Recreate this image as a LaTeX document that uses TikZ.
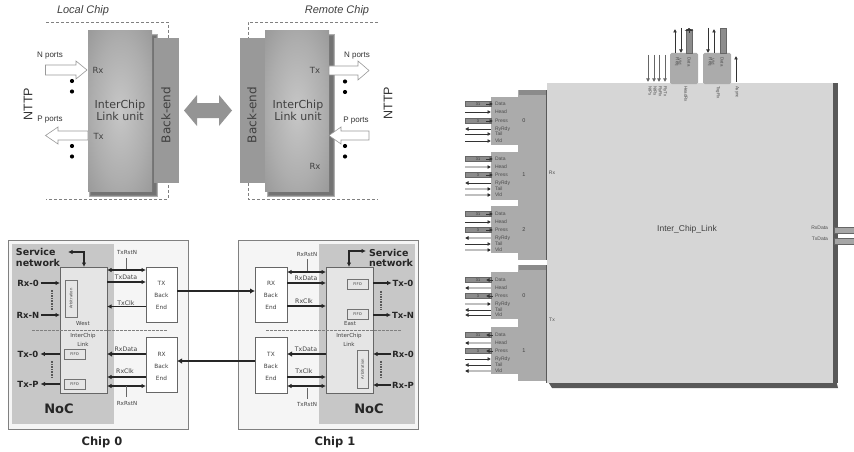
\documentclass[tikz,border=0pt]{standalone}
\usepackage{fontspec}
\setmainfont{Liberation Sans}
\newfontfamily\dvf{DejaVu Sans}
\usetikzlibrary{arrows.meta}
\definecolor{bendgray}{gray}{0.60}
\definecolor{nocgray}{gray}{0.78}
\definecolor{chipbg}{gray}{0.96}
\definecolor{linkbg}{gray}{0.90}
\definecolor{blockbg}{gray}{0.84}
\definecolor{tabgray}{gray}{0.67}
\definecolor{stripdark}{gray}{0.35}
\definecolor{ucenter}{gray}{0.78}
\definecolor{umid}{gray}{0.68}
\definecolor{uedge}{gray}{0.52}
\tikzset{
  x=1pt,y=-1pt,
  every node/.style={inner sep=0pt,outer sep=0pt},
  lbl/.style={text=black!80,font=\fontsize{#1}{#1}\selectfont},
  lbl/.default=8,
  ilbl/.style={text=black!75,font=\fontsize{11}{11}\selectfont\itshape},
  dvl/.style={text=black!75,font=\fontsize{#1}{#1}\selectfont\dvf},
  dvb/.style={text=black!85,font=\fontsize{#1}{#1}\selectfont\dvf\bfseries},
  chipframe/.style={draw=black!50,line width=1pt,fill=chipbg},
  nocfill/.style={fill=nocgray},
  linkbox/.style={draw=black!60,line width=1pt,fill=linkbg},
  bebox/.style={draw=black!60,line width=1pt,fill=white},
  inbox/.style={draw=black!55,line width=.7pt,fill=linkbg},
  sig/.style={draw=black!85,line width=1.1pt,-{Latex[length=4.5pt,width=4.5pt]}},
  sigb/.style={draw=black!85,line width=1.1pt,{Latex[length=4.5pt,width=4.5pt]}-{Latex[length=4.5pt,width=4.5pt]}},
  thicksig/.style={draw=black!85,line width=1.6pt,-{Latex[length=5pt,width=5.5pt]}},
  stemline/.style={draw=black!60,line width=.6pt},
  vdash/.style={draw=black!65,line width=1.4pt,dash pattern=on 1.6pt off 1pt},
  hdash/.style={draw=black!50,line width=.8pt,dash pattern=on 2.5pt off 1.5pt},
  chipdash/.style={draw=black!50,line width=.6pt,dash pattern=on 3pt off 2pt},
  openarrow/.style={draw=black!40,line width=.6pt,fill=white},
  wire/.style={draw=black!80,line width=.7pt,-{Latex[length=3.5pt,width=4pt]}},
  lwire/.style={draw=black!25,line width=1.3pt,-{Latex[length=3.5pt,width=4pt,color=black!85]}},
  busbar/.style={draw=black!60,line width=.7pt,fill=black!45},
  tabfill/.style={fill=tabgray},
  tinylbl/.style={text=black!70,font=\fontsize{5}{5}\selectfont},
  vtiny/.style={text=black!70,font=\fontsize{4.4}{4.4}\selectfont,rotate=-90},
}
\pgfdeclareradialshading{unitshade}{\pgfpoint{0pt}{0pt}}{color(0pt)=(ucenter); color(22pt)=(umid); color(50pt)=(uedge)}
\newcommand{\rowlabels}[6]{%
  \node[tinylbl,anchor=west] at (495,#1) {Data};
  \node[tinylbl,anchor=west] at (495,#2) {Head};
  \node[tinylbl,anchor=west] at (495,#3) {Press};
  \node[tinylbl,anchor=west] at (495,#4) {RyRdy};
  \node[tinylbl,anchor=west] at (495,#5) {Tail};
  \node[tinylbl,anchor=west] at (495,#6) {Vld};
}
\newcommand{\busrow}[3]{%
  \draw[busbar] (465,#1-2.5) rectangle (491,#1+2.5);
  \node[font=\fontsize{3.8}{3.8}\selectfont,text=black!80] at (478,#1) {#2};
  \draw[draw=black!80,line width=.7pt,#3] (486,#1) -- (493,#1);
}
\newcommand{\softshadow}[4]{%
  \foreach \s/\g in {3/90,2/78,1/66,0/55}
    \fill[black!\g!white,opacity=.35] (#1-\s,#2-\s) rectangle (#3+\s,#4+\s);
}
\begin{document}
\begin{tikzpicture}
\useasboundingbox (0,0) rectangle (854,452);
\fill[white] (0,0) rectangle (854,452);

%% ---------- top left: local chip
\node[ilbl] (localT) at (83,11) {Local Chip};
\draw[chipdash] (46,22) -- (168,22) -- (168,38);
\draw[chipdash] (168,185) -- (168,199) -- (46,199);
\softshadow{92}{37}{155}{194}
\node[fill=bendgray,minimum width=25pt,minimum height=145pt] (beL) at (166,110.5) {};
\shade[shading=unitshade] (88,31) rectangle (152,191);
\node[minimum width=64pt,minimum height=160pt] (unitL) at (120,111) {};
\node[dvl=11,align=center] at (120,110) {InterChip\\[1pt]Link unit};
\node[dvl=12,rotate=90] at (166,115) {Back-end};
\node[lbl=12.5,rotate=90] (nttpL) at (28,104) {NTTP};
\node[lbl=8] at (50,56) {N ports};
\node[lbl=8] at (50,120) {P ports};
\node[dvl=8.5,anchor=west] at (92.5,70.5) {Rx};
\node[dvl=8.5,anchor=west] at (93.5,136) {Tx};
\draw[openarrow] (45.5,65) -- (76,65) -- (76,61) -- (87,70) -- (76,79) -- (76,75) -- (45.5,75) -- cycle;
\draw[openarrow] (88,131) -- (58,131) -- (58,127) -- (45.5,135.5) -- (58,144) -- (58,140) -- (88,140) -- cycle;
\foreach \y in {81,91.5,146,156.5} \fill[black] (72,\y) circle (2.1);

%% ---------- double arrow
\fill[black!42] (184,110.5) -- (197,95) -- (197,103) -- (219,103) -- (219,95) -- (232,110.5) -- (219,126) -- (219,118) -- (197,118) -- (197,126) -- cycle;

%% ---------- top right: remote chip
\node[ilbl] (remoteT) at (337,11) {Remote Chip};
\draw[chipdash] (378,22) -- (248,22) -- (248,38);
\draw[chipdash] (248,183) -- (248,199) -- (378,199);
\softshadow{270}{37}{332}{194}
\node[fill=bendgray,minimum width=25pt,minimum height=145pt] (beR) at (252,110.5) {};
\shade[shading=unitshade] (265,31) rectangle (329,191);
\node[minimum width=64pt,minimum height=160pt] (unitR) at (297,111) {};
\node[dvl=11,align=center] at (298,110) {InterChip\\[1pt]Link unit};
\node[dvl=12,rotate=90] at (252,115) {Back-end};
\node[lbl=12.5,rotate=90] (nttpR) at (388,103) {NTTP};
\node[lbl=8] at (357,56) {N ports};
\node[lbl=8] at (356,121) {P ports};
\node[dvl=8.5] at (315,70) {Tx};
\node[dvl=8.5] at (315,166) {Rx};
\draw[openarrow] (329,66) -- (358,66) -- (358,61) -- (369,70.5) -- (358,80) -- (358,75) -- (329,75) -- cycle;
\draw[openarrow] (369,131) -- (341,131) -- (341,127) -- (329,135.5) -- (341,144) -- (341,140) -- (369,140) -- cycle;
\foreach \y in {81.5,92,146,156.5} \fill[black] (345,\y) circle (2.1);

%% ---------- bottom left: chip 0
\node[chipframe,minimum width=180pt,minimum height=189pt] (chip0) at (98,334.5) {};
\node[nocfill,minimum width=102pt,minimum height=180pt] (noc0) at (63,334) {};
\node[linkbox,minimum width=47pt,minimum height=126pt] (link0) at (83.5,330) {};
\node[bebox,minimum width=31pt,minimum height=55pt] (tx0) at (161.5,294.5) {};
\node[bebox,minimum width=31pt,minimum height=55pt] (rx0) at (161.5,365) {};
\foreach \y/\t in {283/TX,295/Back,307/End} \node[dvl=5.8] at (161.5,\y) {\t};
\foreach \y/\t in {354/RX,366/Back,378/End} \node[dvl=5.8] at (161.5,\y) {\t};
\draw[hdash] (32,330) -- (168,330);
\node[inbox,minimum width=12pt,minimum height=37pt] (arb0) at (71,298.5) {};
\node[dvl=3.8,rotate=90] at (71,298.5) {Arbitration};
\node[inbox,minimum width=21pt,minimum height=10pt,dvl=3.8] (fifo0a) at (74.5,354) {FIFO};
\node[inbox,minimum width=21pt,minimum height=10.5pt,dvl=3.8] (fifo0b) at (74.5,384.5) {FIFO};
\node[dvl=5.5] at (83,324) {West};
\node[dvl=5.5] at (83,336) {InterChip};
\node[dvl=5.5] at (83,344) {Link};
\node[dvb=9.5,anchor=west] at (16,252) {Service};
\node[dvb=9.5,anchor=west] (svcT0) at (16,262.5) {network};
\node[dvb=8.5] (rx00) at (28,283) {Rx-0};
\node[dvb=8.5] (rxn0) at (28,315) {Rx-N};
\node[dvb=8.5] (tx00) at (28,354) {Tx-0};
\node[dvb=8.5] (txp0) at (28,384) {Tx-P};
\node[dvb=13] at (59,409) {NoC};
\node[dvb=11.5] (c0) at (102,442) {Chip 0};
\coordinate (svc0) at (68,252);
\draw[sigb] (svc0) -| (link0.north -| 84,0);
\draw[sig] ([xshift=2pt]rx00.east) -- (link0.west |- rx00.east);
\draw[sig] ([xshift=2pt]rxn0.east) -- (link0.west |- rxn0.east);
\draw[sig] (link0.west |- tx00.east) -- ([xshift=2pt]tx00.east);
\draw[sig] (link0.west |- txp0.east) -- ([xshift=2pt]txp0.east);
\draw[vdash] (52,290) -- (52,310);
\draw[vdash] (52,361) -- (52,378);
\node[dvl=5.6] (txrst0) at (127,252) {TxRstN};
\draw[stemline] (126,258) -- (126,270);
\draw[sigb] (link0.east |- 0,270) -- (tx0.west |- 0,270);
\draw[sig] (link0.east |- 0,282) -- (tx0.west |- 0,282);
\draw[sig] (tx0.west |- 0,306.5) -- (link0.east |- 0,306.5);
\draw[thicksig] (rx0.west |- 0,354) -- (link0.east |- 0,354);
\draw[sig] (rx0.west |- 0,377) -- (link0.east |- 0,377);
\draw[sigb] (link0.east |- 0,386) -- (rx0.west |- 0,386);
\node[dvl=5.6] (rxrst0) at (127,403) {RxRstN};
\draw[stemline] (126,386) -- (126,397);
\node[dvl=6.2] at (126,277) {TxData};
\node[dvl=6.2] at (126,303) {TxClk};
\node[dvl=6.2] at (126,349) {RxData};
\node[dvl=6.2] at (125,371.5) {RxClk};

%% ---------- bottom right: chip 1
\node[chipframe,minimum width=180pt,minimum height=189pt] (chip1) at (328,334.5) {};
\node[nocfill,minimum width=96pt,minimum height=180pt] (noc1) at (367,334) {};
\node[linkbox,minimum width=47pt,minimum height=126pt] (link1) at (349.5,330) {};
\node[bebox,minimum width=32pt,minimum height=55pt] (rx1) at (271,294.5) {};
\node[bebox,minimum width=32pt,minimum height=56pt] (tx1) at (271,365) {};
\foreach \y/\t in {283/RX,295/Back,307/End} \node[dvl=5.8] at (271,\y) {\t};
\foreach \y/\t in {354/TX,366/Back,378/End} \node[dvl=5.8] at (271,\y) {\t};
\draw[hdash] (266,330) -- (402,330);
\node[inbox,minimum width=21pt,minimum height=10pt,dvl=3.8] (fifo1a) at (357.5,284) {FIFO};
\node[inbox,minimum width=21pt,minimum height=10pt,dvl=3.8] (fifo1b) at (357.5,314) {FIFO};
\node[inbox,minimum width=11pt,minimum height=38pt] (arb1) at (362.5,369) {};
\node[dvl=3.8,rotate=90] at (362.5,369) {Arbitration};
\node[dvl=5.5] at (350,324) {East};
\node[dvl=5.5] at (349,336) {InterChip};
\node[dvl=5.5] at (349,344) {Link};
\node[dvb=9.5,anchor=west] at (369,253) {Service};
\node[dvb=9.5,anchor=west] at (369,263) {network};
\node[dvb=8.5] (tx01) at (403,283) {Tx-0};
\node[dvb=8.5] (txn1) at (403,315) {Tx-N};
\node[dvb=8.5] (rx01) at (403,354) {Rx-0};
\node[dvb=8.5] (rxp1) at (403,385) {Rx-P};
\node[dvb=13] at (369,409) {NoC};
\node[dvb=11.5] (c1) at (335,442) {Chip 1};
\coordinate (svc1) at (366,251);
\draw[sigb] (link1.north -| 349,0) |- (svc1);
\draw[sig] (link1.east |- tx01.west) -- ([xshift=-1pt]tx01.west);
\draw[sig] (link1.east |- txn1.west) -- ([xshift=-1pt]txn1.west);
\draw[sig] ([xshift=-1pt]rx01.west) -- (link1.east |- rx01.west);
\draw[sig] ([xshift=-1pt]rxp1.west) -- (link1.east |- rxp1.west);
\draw[vdash] (381,291) -- (381,310);
\draw[vdash] (381,361) -- (381,378);
\node[dvl=5.6] (rxrst1) at (307,254) {RxRstN};
\draw[stemline] (307,259) -- (307,272);
\draw[sigb] (rx1.east |- 0,272) -- (link1.west |- 0,272);
\draw[sig] (rx1.east |- 0,283) -- (link1.west |- 0,283);
\draw[sig] (rx1.east |- 0,306) -- (link1.west |- 0,306);
\draw[thicksig] (link1.west |- 0,354) -- (tx1.east |- 0,354);
\draw[sig] (tx1.east |- 0,377) -- (link1.west |- 0,377);
\draw[sigb] (tx1.east |- 0,386) -- (link1.west |- 0,386);
\node[dvl=5.6] (txrst1) at (307,404) {TxRstN};
\draw[stemline] (307,388) -- (307,399);
\node[dvl=6.2] at (306,278) {RxData};
\node[dvl=6.2] at (304,301) {RxClk};
\node[dvl=6.2] at (306,349) {TxData};
\node[dvl=6.2] at (304,371.5) {TxClk};

%% ---------- links between chips
\draw[thicksig] (tx0.east |- 0,291) -- (rx1.west |- 0,291);
\draw[thicksig] (tx1.west |- 0,361) -- (rx0.east |- 0,361);

%% ---------- right: Inter_Chip_Link block
\fill[stripdark] (547,380) -- (836,380) -- (838,388) -- (552,388) -- cycle;
\fill[blockbg] (547,83) rectangle (833,383);
\fill[stripdark] (833,83) rectangle (838,383);
\draw[stripdark,line width=1pt] (546.5,90) -- (546.5,260) (546.5,265) -- (546.5,383);
\node[font=\fontsize{8.5}{9}\selectfont,text=black!75] (icl) at (687,229) {Inter\_Chip\_Link};
\node[tinylbl] (rxT) at (552,173) {Rx};
\node[tinylbl] (txT) at (552,320) {Tx};

% Rx / Tx groups
\fill[tabfill] (518,90) rectangle (546,260);
\fill[stripdark!70] (519,90) rectangle (546,95);
\fill[tabfill] (518,265) rectangle (546,381);
\fill[stripdark!70] (519,265) rectangle (546,270);
\fill[tabfill] (491,97) rectangle (519,145);
\fill[tabfill] (491,152) rectangle (519,200);
\fill[tabfill] (491,206) rectangle (519,253);
\fill[tabfill] (491,272) rectangle (519,319);
\fill[tabfill] (491,327) rectangle (519,374);
\fill[white] (491,145) rectangle (518,152);
\foreach \y/\t in {121/0,175/1,230/2,296/0,351/1}
  \node[font=\fontsize{5.5}{5.5}\selectfont,text=black!75] at (524,\y) {\t};
\rowlabels{104}{112}{121}{129}{134}{141}
\rowlabels{159}{167}{175}{183}{189}{195}
\rowlabels{214}{222}{230}{238}{244}{250}
\rowlabels{280}{288}{296}{304}{310}{315}
\rowlabels{335}{343}{351}{359}{365}{371}

% Rx 0
\busrow{104}{31}{-{Latex[length=3.5pt,width=4pt]}}
\draw[wire] (465,112) -- (491,112);
\busrow{121}{3}{-{Latex[length=3.5pt,width=4pt]}}
\draw[wire] (491,129) -- (465,129);
\draw[wire] (465,134) -- (491,134);
\draw[wire] (465,141) -- (491,141);
% Rx 1
\busrow{159}{31}{-{Latex[length=3.5pt,width=4pt]}}
\draw[lwire] (465,167) -- (491,167);
\busrow{175}{3}{-{Latex[length=3.5pt,width=4pt]}}
\draw[wire] (491,183) -- (465,183);
\draw[lwire] (465,189) -- (491,189);
\draw[lwire] (465,195) -- (491,195);
% Rx 2
\busrow{214}{31}{-{Latex[length=3.5pt,width=4pt]}}
\draw[wire] (465,222) -- (491,222);
\busrow{230}{3}{-{Latex[length=3.5pt,width=4pt]}}
\draw[lwire] (491,238) -- (465,238);
\draw[wire] (465,244) -- (491,244);
\draw[lwire] (465,250) -- (491,250);
% Tx 0
\busrow{280}{31}{{Latex[length=3.5pt,width=4pt]}-}
\draw[lwire] (491,288) -- (465,288);
\busrow{296}{3}{{Latex[length=3.5pt,width=4pt]}-}
\draw[lwire] (465,304) -- (491,304);
\draw[wire] (491,310) -- (465,310);
\draw[wire] (491,315) -- (465,315);
% Tx 1
\busrow{335}{31}{{Latex[length=3.5pt,width=4pt]}-}
\draw[lwire] (491,343) -- (465,343);
\busrow{351}{3}{{Latex[length=3.5pt,width=4pt]}-}
\draw[wire] (465,359) -- (491,359);
\draw[wire] (491,365) -- (465,365);
\draw[lwire] (491,371) -- (465,371);

% top ports
\fill[tabfill,rounded corners=1.5pt] (670,53) rectangle (698,84);
\fill[tabfill,rounded corners=1.5pt] (703,53) rectangle (731,84);
\fill[tabfill] (670,60) rectangle (698,83);
\fill[tabfill] (703,60) rectangle (731,83);
\foreach \x in {648,654,659,665} \draw[wire,draw=black!60] (\x,55) -- (\x,82);
\draw[wire] (675,53) -- (675,29);
\draw[wire] (681,28) -- (681,53);
\draw[busbar] (686,29) rectangle (692,53);
\draw[draw=black!80,line width=.7pt,-{Latex[length=3pt,width=10pt]}] (689,33) -- (689,28);
\draw[busbar] (720,28) rectangle (726,53);
\draw[wire] (708,28) -- (708,53);
\draw[wire] (714,53) -- (714,29);
\draw[wire] (736,82) -- (736,56);
\foreach \x/\t in {677/Req,680/Vld,689/Data,710/Req,713/Vld,722/Data}
  \node[vtiny] at (\x,62) {\t};
\foreach \x/\t in {650/NtPs,655/NtRs,660/RyRx,665/RyTx,686/HeadRx,718/TxgRx,737/Async}
  \node[vtiny,anchor=west] at (\x,86) {\t};

% right ports
\node[tinylbl,anchor=east] (rxd) at (828,228) {RxData};
\node[tinylbl,anchor=east] (txd) at (828,239) {TxData};
\draw[busbar,fill=black!35] (834,227) rectangle (854,233);
\draw[busbar,fill=black!35] (834,238) rectangle (854,244);
\end{tikzpicture}
\end{document}
